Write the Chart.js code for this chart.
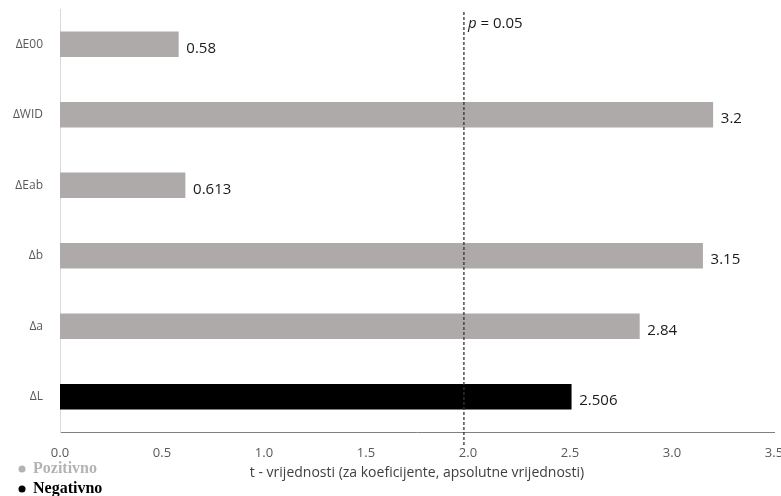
<!DOCTYPE html>
<html>
<head>
<meta charset="utf-8">
<script src="https://cdn.jsdelivr.net/npm/chart.js@4/dist/chart.umd.min.js"></script>
<style>
  html, body { margin: 0; padding: 0; background: #fff; }
  #wrap { width: 781px; height: 496px; }
</style>
</head>
<body>
<div id="wrap"><canvas id="chart-t"></canvas></div>
<script>
const categories = ["ΔE00", "ΔWID", "ΔEab", "Δb", "Δa", "ΔL"];
const tValues = [0.58, 3.2, 0.613, 3.15, 2.84, 2.506];
const signs = ["+", "+", "+", "+", "+", "-"];
const xTicks = [0, 0.5, 1, 1.5, 2, 2.5, 3, 3.5];
const pLine = 1.98;
const legendNames = ["Pozitivno", "Negativno"];

const gray = "#aeaaa9";
const black = "#000000";

// value labels at the end of each bar, p line and legend
const extras = {
  id: "extras",
  afterDatasetsDraw(chart) {
    const ctx = chart.ctx;
    const meta = chart.getDatasetMeta(0);
    ctx.save();
    ctx.font = "15px 'Open Sans'";
    ctx.fillStyle = "#1a1a1a";
    ctx.textBaseline = "middle";
    ctx.textAlign = "left";
    meta.data.forEach((bar, i) => {
      ctx.fillText(String(tValues[i]), bar.x + 8, bar.y + 4);
    });

    // dashed p = 0.05 line
    const x = chart.scales.x.getPixelForValue(pLine);
    ctx.strokeStyle = "#333";
    ctx.lineWidth = 1.3;
    ctx.setLineDash([3, 2]);
    ctx.beginPath();
    ctx.moveTo(x, 12);
    ctx.lineTo(x, 447);
    ctx.stroke();
    ctx.setLineDash([]);

    ctx.font = "italic 15px 'Open Sans'";
    ctx.fillStyle = "#1a1a1a";
    ctx.fillText("p", x + 4, 24);
    const pw = ctx.measureText("p").width;
    ctx.font = "15px 'Open Sans'";
    ctx.fillText(" = 0.05", x + 4 + pw, 24);

    // legend
    ctx.font = "bold 16px 'Liberation Serif'";
    legendNames.forEach((name, i) => {
      const y = 469 + i * 20;
      ctx.fillStyle = i === 0 ? "#b3b3b3" : black;
      ctx.beginPath();
      ctx.arc(22, y, 3.5, 0, Math.PI * 2);
      ctx.fill();
      ctx.fillText(name, 33, y);
    });
    ctx.restore();
  },
};

const chartT = new Chart(document.getElementById("chart-t").getContext("2d"), {
  type: "bar",
  data: {
    labels: categories,
    datasets: [
      {
        label: "t",
        data: tValues,
        backgroundColor: signs.map((s) => (s === "+" ? gray : black)),
        barThickness: 25,
      },
    ],
  },
  options: {
    indexAxis: "y",
    responsive: true,
    maintainAspectRatio: false,
    animation: false,
    layout: {
      padding: { top: 9, right: 7, bottom: 0, left: 0 },
    },
    plugins: {
      legend: { display: false },
      tooltip: { enabled: false },
    },
    scales: {
      x: {
        min: 0,
        max: 3.5,
        afterBuildTicks: (scale) => {
          scale.ticks = xTicks.map((v) => ({ value: v }));
        },
        afterFit: (scale) => {
          scale.height = 64;
          scale.paddingRight = 0;
          scale.paddingLeft = 0;
        },
        ticks: {
          color: "#595959",
          font: { family: "Open Sans", size: 13 },
          padding: 13,
          callback: (v) => Number(v).toFixed(1),
          maxRotation: 0,
        },
        grid: { display: false, drawTicks: false },
        border: { color: "#808080", width: 1 },
        title: {
          display: true,
          text: "t - vrijednosti (za koeficijente, apsolutne vrijednosti)",
          color: "#404040",
          font: { family: "Open Sans", size: 14 },
          padding: { top: 4, bottom: 15 },
        },
      },
      y: {
        afterFit: (scale) => {
          scale.width = 60;
          scale.paddingTop = 0;
          scale.paddingBottom = 0;
        },
        ticks: {
          color: "#595959",
          font: { family: "Open Sans", size: 12 },
          padding: 17,
        },
        grid: { display: false, drawTicks: false },
        border: { color: "#d9d9d9", width: 1 },
      },
    },
  },
  plugins: [extras],
});
</script>
</body>
</html>
